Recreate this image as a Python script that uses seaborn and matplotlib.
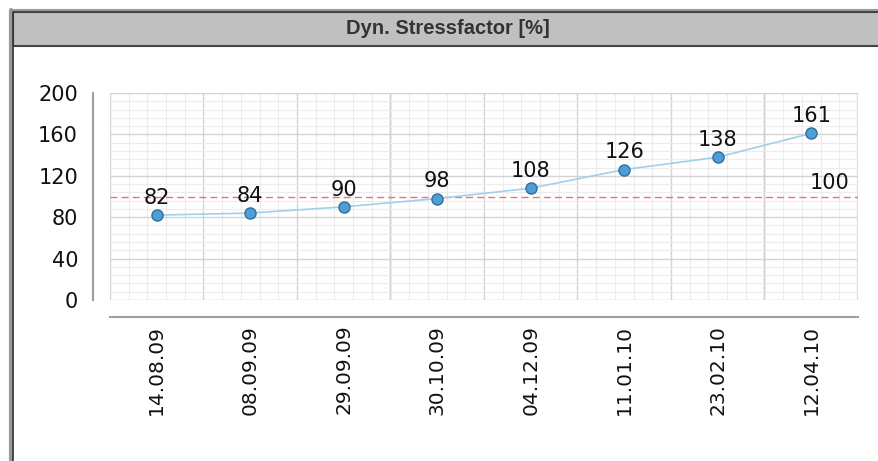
import matplotlib
matplotlib.use("Agg")
import matplotlib.pyplot as plt
import matplotlib.patches as mpatches
import seaborn as sns
import pandas as pd
import numpy as np

# data
dates = ["14.08.09", "08.09.09", "29.09.09", "30.10.09", "04.12.09", "11.01.10", "23.02.10", "12.04.10"]
stress = [82, 84, 90, 98, 108, 126, 138, 161]
limit = 100
title = "Dyn. Stressfactor [%]"

df = pd.DataFrame({"date": dates, "stress": stress})

sns.set_style("white")
plt.rcParams["font.family"] = "sans-serif"
plt.rcParams["font.sans-serif"] = ["DejaVu Sans"]

fig = plt.figure(figsize=(8.79, 4.61), dpi=100)
W, H = 879, 461

def fx(px):
    return px / W

def fy(py):
    return 1 - py / H

# outer frame + grey title bar (runs off the right edge)
fig.patches.append(mpatches.Rectangle((fx(13), fy(46)), 1, fy(12) - fy(46),
                                      transform=fig.transFigure, facecolor="#c0c0c0",
                                      edgecolor="#444444", linewidth=1.5))
fig.lines.append(plt.Line2D([fx(13), 1], [fy(10), fy(10)], transform=fig.transFigure,
                            color="#999999", linewidth=1.5))
fig.lines.append(plt.Line2D([fx(10.5), fx(10.5)], [0, fy(10)], transform=fig.transFigure,
                            color="#999999", linewidth=3))
fig.lines.append(plt.Line2D([fx(13.5), fx(13.5)], [0, fy(12)], transform=fig.transFigure,
                            color="#333333", linewidth=1.2))
fig.text(fx(448), fy(29), title, ha="center", va="center", fontsize=14.5,
         fontweight="bold", color="#333333",
         family=["Liberation Sans Narrow", "Liberation Sans", "DejaVu Sans"])

ax = fig.add_axes([fx(110), fy(300), fx(858) - fx(110), fy(93) - fy(300)])

sns.lineplot(data=df, x="date", y="stress", ax=ax, color="#9fd0ee", linewidth=1.2,
             marker="o", markersize=8, markerfacecolor="#4d9fd6",
             markeredgecolor="#2f6f9a", markeredgewidth=1, zorder=4)

ax.axhline(limit, color="#f07070", linestyle=(0, (5, 3)), linewidth=1, zorder=3)
ax.text(7.2, limit + 3, str(limit), ha="center", va="bottom", fontsize=15, color="#111111",
        family="DejaVu Sans")

for i, v in enumerate(stress):
    ax.text(i, v + 7, str(v), ha="center", va="bottom", fontsize=15, color="#111111",
            zorder=5, family="DejaVu Sans")

ax.set_xlim(-0.5, 7.5)
ax.set_ylim(0, 200)

# grid: major at bin edges / every 40, minor in between
ax.set_xticks(np.arange(-0.5, 8, 1))
ax.set_xticks(np.arange(-0.5, 7.5, 0.2), minor=True)
ax.set_yticks(np.arange(0, 201, 40))
ax.set_yticks(np.arange(0, 201, 8), minor=True)
ax.grid(which="major", color="#d4d4d4", linewidth=1)
ax.grid(which="minor", color="#ececec", linewidth=0.8)
for gx in [2.5, 6.5]:
    ax.axvline(gx, color="#bbbbbb", linewidth=1, zorder=0.5)
ax.axvline(7.5, color="#dddddd", linewidth=1.5, zorder=0.5)
ax.set_axisbelow(True)

ax.set_xticklabels([])
for i, d in enumerate(dates):
    ax.text(i, -0.12, d, rotation=90, ha="center", va="top", fontsize=14.5,
            transform=ax.get_xaxis_transform(), color="#111111", family="DejaVu Sans")

ax.tick_params(axis="x", which="major", length=6, color="#cccccc", direction="out")
ax.tick_params(axis="x", which="minor", length=0)
ax.tick_params(axis="y", which="major", length=6, color="#aaaaaa", labelsize=15,
               labelcolor="#111111", pad=5)
ax.tick_params(axis="y", which="minor", length=0)
for lab in ax.get_yticklabels():
    lab.set_family("DejaVu Sans")

ax.set_xlabel("")
ax.set_ylabel("")
sns.despine(ax=ax, offset={"left": 12, "bottom": 12})
for s in ["left", "bottom"]:
    ax.spines[s].set_color("#a0a0a0")
    ax.spines[s].set_linewidth(1.5)

fig.savefig("out.png", dpi=100)
